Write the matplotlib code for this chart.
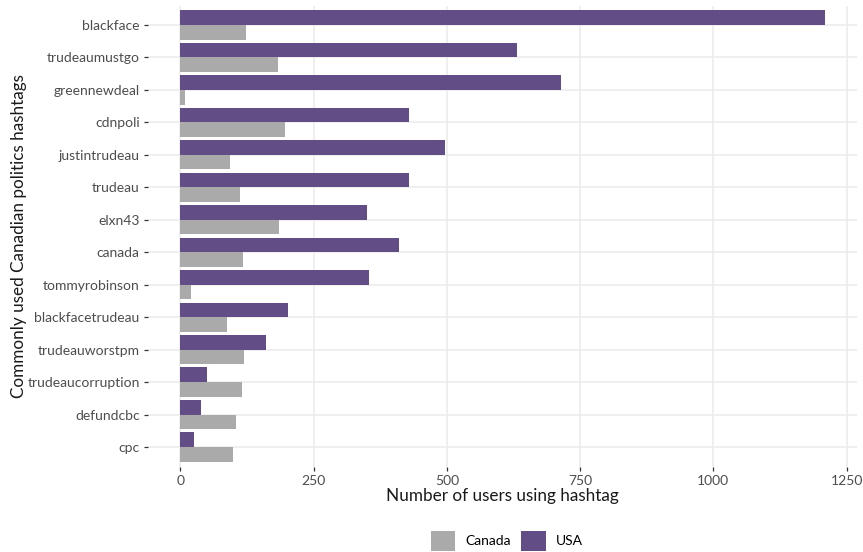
import matplotlib.pyplot as plt
import numpy as np

plt.rcParams['font.family'] = ['Lato', 'DejaVu Sans']

hashtags = ['blackface', 'trudeaumustgo', 'greennewdeal', 'cdnpoli', 'justintrudeau',
            'trudeau', 'elxn43', 'canada', 'tommyrobinson', 'blackfacetrudeau',
            'trudeauworstpm', 'trudeaucorruption', 'defundcbc', 'cpc']
usa = [1209, 631, 714, 429, 496, 430, 351, 411, 355, 202, 161, 51, 39, 25]
canada = [124, 184, 9, 196, 93, 112, 186, 118, 21, 88, 119, 115, 105, 99]

purple = '#624D86'
grey = '#AAAAAA'

fig = plt.figure(figsize=(8.63, 5.52), dpi=100)
ax = fig.add_axes([148 / 863, 1 - 466.5 / 552, 709 / 863, 461 / 552])

y = np.arange(len(hashtags))[::-1]
h = 0.45
ax.barh(y + h / 2, usa, height=h, color=purple, label='USA', zorder=3)
ax.barh(y - h / 2, canada, height=h, color=grey, label='Canada', zorder=3)

ax.set_xlim(-60.5, 1269.5)
ax.set_ylim(-0.6, len(hashtags) - 0.4)
ax.set_xticks([0, 250, 500, 750, 1000, 1250])
ax.set_yticks(y)
ax.set_yticklabels(hashtags)

ax.grid(True, color='#EBEBEB', linewidth=1.1, zorder=0)
ax.set_axisbelow(True)
for s in ax.spines.values():
    s.set_visible(False)
ax.tick_params(axis='both', length=3, width=0.9, color='#333333',
               labelcolor='#4D4D4D', labelsize=10, pad=3)

ax.set_xlabel('Number of users using hashtag', fontsize=12.3, color='#1A1A1A', labelpad=1)
ax.set_ylabel('Commonly used Canadian politics hashtags', fontsize=12.3, color='#1A1A1A', labelpad=0)

handles, labels = ax.get_legend_handles_labels()
fig.legend(handles[::-1], labels[::-1], loc='center', bbox_to_anchor=(0.5875, 0.02),
           ncol=2, frameon=False, fontsize=10, handlelength=1.75, handleheight=1.9,
           columnspacing=0.75, handletextpad=0.75)

fig.savefig('out.png', dpi=100)
